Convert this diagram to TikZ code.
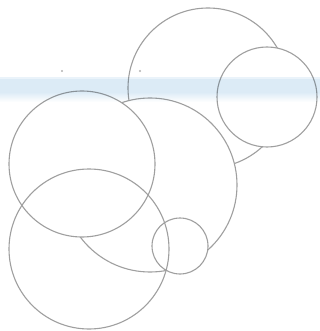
\documentclass[tikz,border=0pt]{standalone}
\definecolor{bandblue}{RGB}{220,235,246}
\begin{document}
\begin{tikzpicture}[x=1pt, y=-1pt, line join=round, line cap=round]
	\tikzset{ring/.style={draw=gray!75, line width=1.1pt, fill=white}}
	\useasboundingbox (0,0) rectangle (320,331);
	%Các đường tròn, từ sau ra trước
	\draw[ring] (208,88) circle(80);
	\draw[ring] (150,185) circle(87);
	\draw[ring] (267,97) circle(50);
	\draw[ring] (82,164) circle(73);
	\draw[ring] (180,246) circle(28);
	\draw[ring, fill=none] (89,249) circle(80);
	%Dải màu xanh
	\begin{scope}[blend mode=multiply]
		\fill[bandblue!60!white] (0,77) rectangle (320,79);
		\fill[bandblue] (0,79) rectangle (320,92);
		\foreach \i in {0,...,9}{
			\pgfmathsetmacro\p{100-10*\i}
			\fill[bandblue!\p!white] (0,92+\i) rectangle (320,93+\i);
		}
	\end{scope}
	\fill[gray!60]
	(62,71) circle(1.2)
	(140,71) circle(1.2)
	;
\end{tikzpicture}
\end{document}
